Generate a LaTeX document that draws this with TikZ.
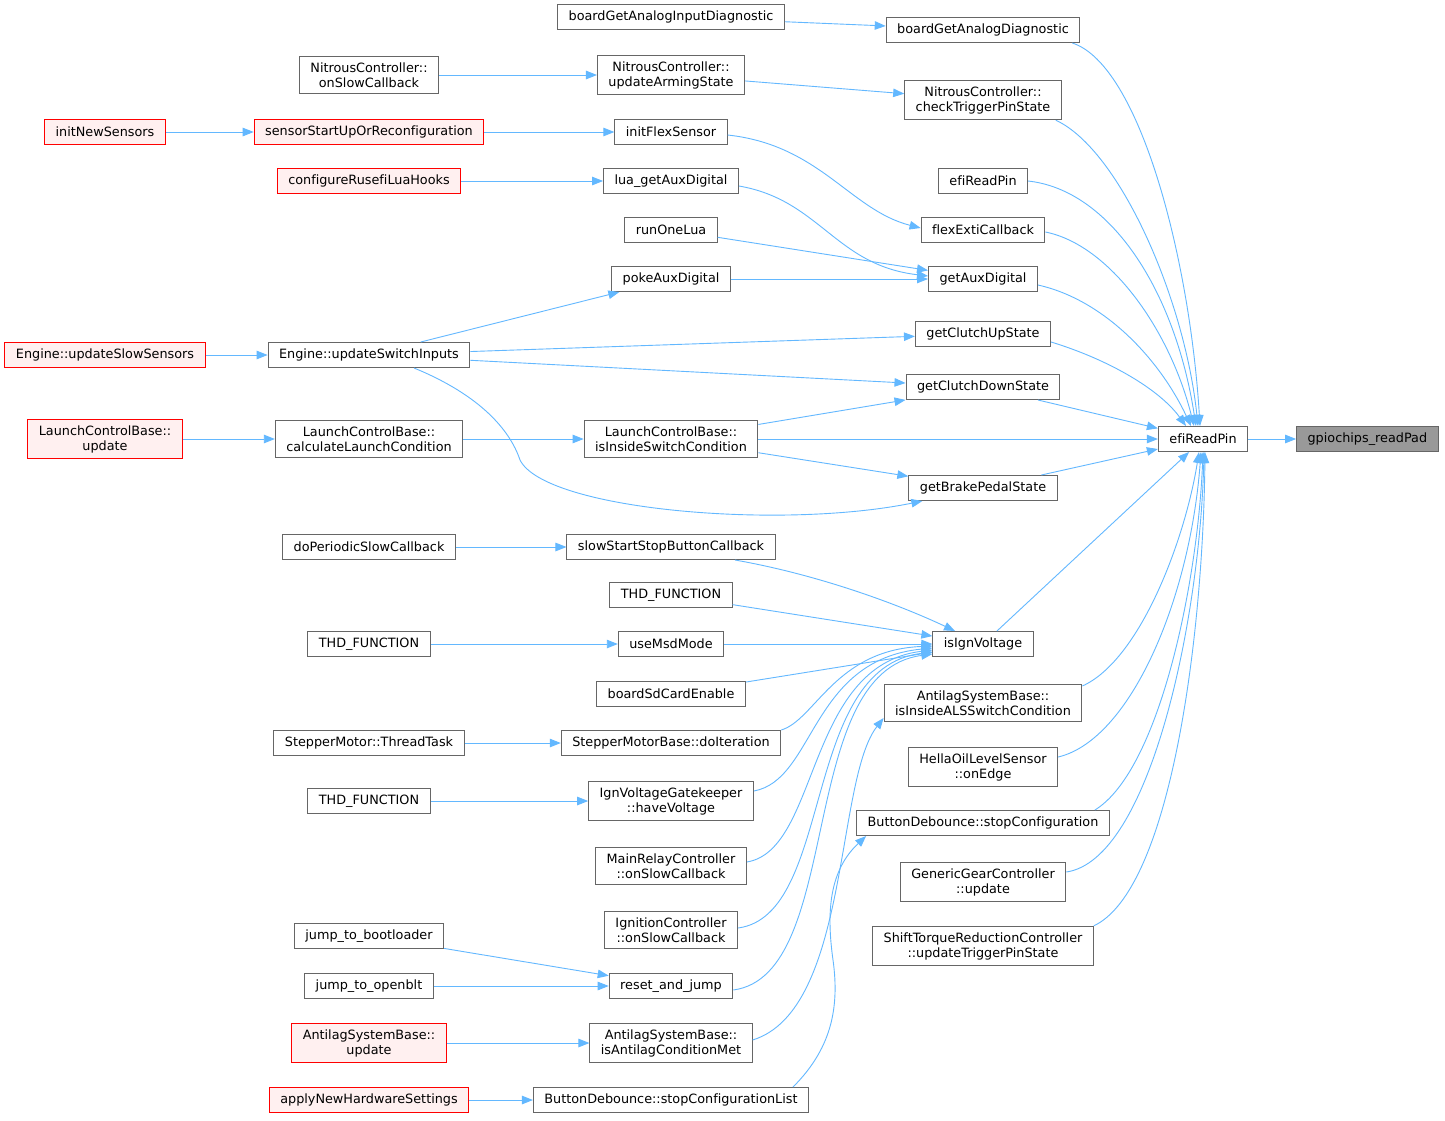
\documentclass[tikz,border=0pt]{standalone}
\usepackage{fontspec}
\setmainfont{DejaVu Sans}[Ligatures=NoCommon]
\usetikzlibrary{arrows.meta}

\definecolor{edgeblue}{HTML}{63B8FF}
\definecolor{boxline}{HTML}{666666}
\definecolor{hotline}{HTML}{FF0000}
\definecolor{hotfill}{HTML}{FFF0F0}
\definecolor{rootfill}{HTML}{999999}
\newcommand{\fnfont}{\fontsize{12.8}{15}\selectfont}

\begin{document}
\begin{tikzpicture}[x=1pt, y=-1pt,
  fn/.style={draw=boxline, fill=white, line width=1pt, inner xsep=11pt, inner ysep=6pt, minimum height=25pt, align=center, font=\fnfont},
  hot/.style={fn, draw=hotline, fill=hotfill},
  root/.style={fn, fill=rootfill},
  call/.style={draw=edgeblue, line width=0.9pt, -{Triangle[length=11pt,width=8.5pt]}}]
 \usetikzlibrary{positioning}
 \useasboundingbox[fill=white] (0,0) rectangle (1445,1120);

 %Callee
 \node (efi) [fn] at (1203,439) {efiReadPin};
 \node (gpio) [root, right=48pt of efi] {gpiochips\_readPad};

 %Direct callers
 \node (bgad) [fn] at (983,30) {boardGetAnalogDiagnostic};
 \node (ctps) [fn] at (983,100) {NitrousController::\\checkTriggerPinState};
 \node (erp) [fn] at (983,181) {efiReadPin};
 \node (fec) [fn] at (983,230) {flexExtiCallback};
 \node (gad) [fn] at (983,279) {getAuxDigital};
 \node (gcus) [fn] at (983,334) {getClutchUpState};
 \node (gcds) [fn] at (983,387) {getClutchDownState};
 \node (gbps) [fn] at (983,488) {getBrakePedalState};
 \node (iiv) [fn] at (983,644) {isIgnVoltage};
 \node (iialsc) [fn] at (983,703) {AntilagSystemBase::\\isInsideALSSwitchCondition};
 \node (hola) [fn] at (983,767) {HellaOilLevelSensor\\::onEdge};
 \node (bdsc) [fn] at (983,823) {ButtonDebounce::stopConfiguration};
 \node (ggcu) [fn] at (983,882) {GenericGearController\\::update};
 \node (strc) [fn] at (983,946) {ShiftTorqueReductionController\\::updateTriggerPinState};

 %Second level
 \node (bgaid) [fn] at (671,17) {boardGetAnalogInputDiagnostic};
 \node (ncuas) [fn] at (671,75) {NitrousController::\\updateArmingState};
 \node (ifs) [fn] at (671,132) {initFlexSensor};
 \node (lgad) [fn] at (671,181) {lua\_getAuxDigital};
 \node (rol) [fn] at (671,230) {runOneLua};
 \node (pad) [fn] at (671,279) {pokeAuxDigital};
 \node (lcbisc) [fn] at (671,439) {LaunchControlBase::\\isInsideSwitchCondition};
 \node (sssbc) [fn] at (671,547) {slowStartStopButtonCallback};
 \node (thdb) [fn] at (671,595) {THD\_FUNCTION};
 \node (umm) [fn] at (671,644) {useMsdMode};
 \node (bsce) [fn] at (671,694) {boardSdCardEnable};
 \node (smbdi) [fn] at (671,743) {StepperMotorBase::doIteration};
 \node (ivghv) [fn] at (671,801) {IgnVoltageGatekeeper\\::haveVoltage};
 \node (mrcosc) [fn] at (671,866) {MainRelayController\\::onSlowCallback};
 \node (icosc) [fn] at (671,930) {IgnitionController\\::onSlowCallback};
 \node (raj) [fn] at (671,986) {reset\_and\_jump};
 \node (asbiacm) [fn] at (671,1043) {AntilagSystemBase::\\isAntilagConditionMet};
 \node (bdscl) [fn] at (671,1100) {ButtonDebounce::stopConfigurationList};

 %Third level
 \node (ncosc) [fn] at (369,75) {NitrousController::\\onSlowCallback};
 \node (ssuor) [hot] at (369,132) {sensorStartUpOrReconfiguration};
 \node (crlh) [hot] at (369,181) {configureRusefiLuaHooks};
 \node (eusi) [fn] at (369,355) {Engine::updateSwitchInputs};
 \node (lcbclc) [fn] at (369,439) {LaunchControlBase::\\calculateLaunchCondition};
 \node (dpsc) [fn] at (369,547) {doPeriodicSlowCallback};
 \node (thda) [fn] at (369,644) {THD\_FUNCTION};
 \node (smtt) [fn] at (369,743) {StepperMotor::ThreadTask};
 \node (thdc) [fn] at (369,801) {THD\_FUNCTION};
 \node (jtb) [fn] at (369,936) {jump\_to\_bootloader};
 \node (jto) [fn] at (369,986) {jump\_to\_openblt};
 \node (asbu) [hot] at (369,1043) {AntilagSystemBase::\\update};
 \node (anhs) [hot] at (369,1100) {applyNewHardwareSettings};

 %Fourth level
 \node (ins) [hot] at (105,132) {initNewSensors};
 \node (euss) [hot] at (105,355) {Engine::updateSlowSensors};
 \node (lcbu) [hot] at (105,439) {LaunchControlBase::\\update};

 %Straight calls
 \foreach \a/\b in {efi/gpio, bgaid/bgad, ncuas/ctps, ncosc/ncuas, ins/ssuor, ssuor/ifs, crlh/lgad, rol/gad, pad/gad,
   eusi/pad, eusi/gcus, eusi/gcds, euss/eusi, lcbisc/gcds, lcbisc/efi, lcbisc/gbps, gcds/efi, gbps/efi, iiv/efi,
   lcbclc/lcbisc, lcbu/lcbclc, dpsc/sssbc, thdb/iiv, umm/iiv, thda/umm, bsce/iiv, smtt/smbdi, thdc/ivghv,
   jtb/raj, jto/raj, asbu/asbiacm, anhs/bdscl}
   \draw[call] (\a) -- (\b);

 %Curved calls into efiReadPin
 \draw[call] ([xshift=-8pt]bgad.south east) .. controls (1140,65) and (1190,260) .. ([xshift=-3pt]efi.north);
 \draw[call] ([xshift=-6pt]ctps.south east) .. controls (1120,150) and (1185,300) .. ([xshift=-5pt]efi.north);
 \draw[call] (erp.east) .. controls (1110,190) and (1175,290) .. ([xshift=-7pt]efi.north);
 \draw[call] ([yshift=-2pt]fec.east) .. controls (1110,245) and (1170,330) .. ([xshift=-9pt]efi.north);
 \draw[call] ([yshift=-6pt]gad.east) .. controls (1105,300) and (1160,360) .. ([xshift=-12pt]efi.north);
 \draw[call] ([yshift=-8pt]gcus.east) .. controls (1110,360) and (1160,390) .. ([xshift=-17pt]efi.north);
 \draw[call] ([yshift=17pt]iialsc.east) .. controls (1140,660) and (1185,540) .. ([xshift=-4pt]efi.south);
 \draw[call] ([yshift=10pt]hola.east) .. controls (1130,740) and (1190,600) .. ([xshift=-2pt]efi.south);
 \draw[call] ([xshift=-15pt]bdsc.north east) .. controls (1160,770) and (1198,580) .. (efi.south);
 \draw[call] ([yshift=10pt]ggcu.east) .. controls (1150,860) and (1200,620) .. ([xshift=1pt]efi.south);
 \draw[call] (strc.north east) .. controls (1170,890) and (1203,640) .. ([xshift=2pt]efi.south);

 %Curved calls, upper part
 \draw[call] ([yshift=-3pt]ifs.east) .. controls (820,145) and (850,210) .. ([yshift=2pt]fec.west);
 \draw[call] ([yshift=-5pt]lgad.east) .. controls (820,200) and (835,265) .. ([yshift=3pt]gad.west);
 \draw[call] ([xshift=45pt]eusi.south) .. controls (480,395) and (510,430) .. (520,460)
   .. controls (545,510) and (780,530) .. ([xshift=14pt]gbps.south west);

 %Curved calls into isIgnVoltage
 \draw[call] ([xshift=64pt]sssbc.south) .. controls (820,575) and (900,605) .. ([xshift=-28pt]iiv.north);
 \draw[call] (smbdi.north east) .. controls (815,720) and (835,650) .. ([yshift=-2pt]iiv.west);
 \draw[call] ([yshift=10pt]ivghv.east) .. controls (815,780) and (810,660) .. ([yshift=-4pt]iiv.west);
 \draw[call] ([yshift=4pt]mrcosc.east) .. controls (820,850) and (805,665) .. ([yshift=-6pt]iiv.west);
 \draw[call] ([yshift=2pt]icosc.east) .. controls (835,915) and (800,668) .. ([yshift=-8pt]iiv.west);
 \draw[call] ([yshift=-4pt]raj.east) .. controls (845,975) and (795,672) .. ([yshift=-10pt]iiv.west);

 %Curved calls, lower part
 \draw[call] ([yshift=3pt]asbiacm.east) .. controls (850,1010) and (835,780) .. ([yshift=-15pt]iialsc.west);
 \draw[call] ([xshift=122pt]bdscl.north) .. controls (830,1050) and (840,1010) .. (833,960)
   .. controls (826,910) and (830,870) .. ([xshift=10pt]bdsc.south west);

\end{tikzpicture}
\end{document}
